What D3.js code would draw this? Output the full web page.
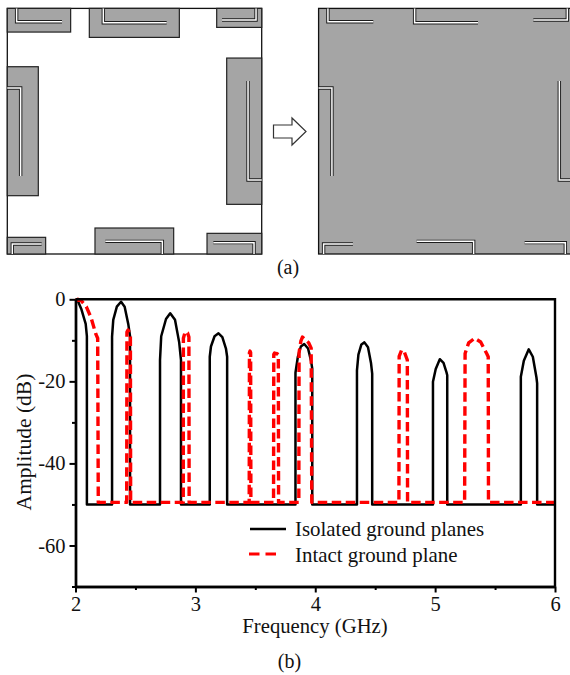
<!DOCTYPE html>
<html><head><meta charset="utf-8">
<script src="https://cdnjs.cloudflare.com/ajax/libs/d3/7.8.5/d3.min.js"></script>
<style>
html,body{margin:0;padding:0;background:#fff;overflow:hidden}
svg{display:block}
text{font-family:"Liberation Serif",serif;fill:#111}
</style></head><body>
<svg id="c" width="570" height="675"></svg>
<script>
// Spectrum series, frequency in GHz and amplitude in dB
const isolatedFreq = [2.00,2.02,2.05,2.085,2.095,2.095, 2.305,2.305,2.315,2.345,2.38,2.41,2.44,2.455,2.455,
  2.705,2.705,2.715,2.755,2.79,2.83,2.865,2.88,2.88, 3.12,3.12,3.13,3.16,3.193,3.225,3.255,3.265,3.265,
  3.835,3.835,3.855,3.88,3.908,3.94,3.965,3.975,3.975, 4.348,4.348,4.36,4.385,4.41,4.44,4.465,4.475,4.475,
  4.982,4.982,5.005,5.039,5.07,5.095,5.101,5.101, 5.715,5.715,5.74,5.781,5.815,5.845,5.851,5.851];
const isolatedAmp = [0,-0.4,-2.5,-6,-9,-50, -50,-9.1,-5,-1.8,-0.6,-1.8,-6,-9,-50,
  -50,-14.8,-9,-4.8,-3.4,-5,-10.5,-14.8,-50, -50,-14,-11.5,-9,-8.3,-9.2,-12,-14,-50,
  -50,-17.9,-14,-11.5,-10.9,-12,-15,-16.9,-50, -50,-17.3,-13.5,-11,-10.5,-11.7,-15.5,-18.1,-50,
  -50,-20.1,-17,-14.6,-15.5,-17.8,-18.5,-50, -50,-18.9,-15,-12.2,-14,-19,-20.5,-50];
const intactFreq = [2.00,2.02,2.05,2.09,2.13,2.17,2.185,2.19, 2.427,2.429,2.438,2.458,2.46,
  2.899,2.90,2.915,2.935,2.946,2.948, 3.449,3.451,3.456,3.461,3.463, 3.652,3.654,3.66,3.674,3.68,3.692,3.694,
  3.863,3.865,3.88,3.893,3.915,3.945,3.966,3.971, 4.698,4.70,4.72,4.74,4.768,4.77,
  5.246,5.25,5.28,5.33,5.38,5.43,5.443,5.445];
const intactAmp = [-0.3,0,-0.4,-1.8,-4.5,-8.5,-9.5,-49.5, -49.5,-8,-7.5,-8.4,-49.5,
  -49.5,-9.5,-7.9,-8.2,-9.2,-49.5, -49.5,-13,-12.6,-13,-49.5, -49.5,-13.4,-13.1,-13.3,-13.2,-13.5,-49.5,
  -49.5,-13,-10.2,-9.2,-9.8,-10.6,-11.9,-49.5, -49.5,-13.9,-12.4,-12.6,-14.8,-49.5,
  -49.5,-13.2,-10.6,-9.5,-10.4,-13.2,-14,-49.5];
const lastFreq = [6, 6];
const xTicks = [2,3,4,5,6];
const yTicks = [0,-20,-40,-60];
const xMinor = [2.5,3.5,4.5,5.5];
const yMinor = [-10,-30,-50,-70];
const legendNames = ["Isolated ground planes","Intact ground plane"];
// Board layout, drawing units
const patchBoxes = [[22,25,212,96],[268,25,538,112],[650,25,785,82],[22,200,115,587],
  [680,174,785,613],[22,712,137,762],[285,684,521,762],[621,700,785,762]];
const slotPaths = [[[50,25],[50,65],[186,65]],[[310,25],[310,68],[500,68]],[[768,25],[768,60],[666,60]],
  [[22,264],[62,264],[62,528]],[[785,540],[744,540],[744,243]],[[37,762],[37,732],[125,732]],
  [[487,762],[487,724],[316,724]],[[762,762],[762,728],[640,728]]];

const svg = d3.select("#c");
const grey = "#a5a5a5";

const bx1 = d3.scaleLinear().domain([22,785]).range([7.3,261.7]);
const bx2 = d3.scaleLinear().domain([22,785]).range([318.6,573]);
const by = d3.scaleLinear().domain([25,762]).range([8.4,254]);

function slots(g, bx){
  const line = d3.line().x(d=>bx(d[0])).y(d=>by(d[1]));
  g.selectAll("path.o").data(slotPaths).join("path").attr("class","o").attr("d",line)
    .attr("fill","none").attr("stroke","#1c1c1c").attr("stroke-width",3.4);
  g.selectAll("path.i").data(slotPaths).join("path").attr("class","i").attr("d",line)
    .attr("fill","none").attr("stroke","#fff").attr("stroke-width",1.5);
}
// left board
const g1 = svg.append("g");
g1.append("rect").attr("x",bx1(22)).attr("y",by(25)).attr("width",bx1(785)-bx1(22)).attr("height",by(762)-by(25))
  .attr("fill","#fff").attr("stroke","#111").attr("stroke-width",1.3);
g1.selectAll("rect.p").data(patchBoxes).join("rect").attr("class","p")
  .attr("x",d=>bx1(d[0])).attr("y",d=>by(d[1])).attr("width",d=>bx1(d[2])-bx1(d[0])).attr("height",d=>by(d[3])-by(d[1]))
  .attr("fill",grey).attr("stroke","#222").attr("stroke-width",1.2);
slots(g1.append("g"),bx1);
// right board
const g2 = svg.append("g");
g2.append("rect").attr("x",bx2(22)).attr("y",by(25)).attr("width",bx2(785)-bx2(22)).attr("height",by(762)-by(25))
  .attr("fill",grey).attr("stroke","#111").attr("stroke-width",1.3);
slots(g2.append("g"),bx2);
// arrow
svg.append("path").attr("d","M273.5,125H292V118L306,131.5L292,145V138H273.5Z")
  .attr("fill","#fff").attr("stroke","#333").attr("stroke-width",1.2);

svg.append("text").attr("x",288).attr("y",273.5).attr("text-anchor","middle").attr("font-size",20).text("(a)");
svg.append("text").attr("x",289.5).attr("y",668).attr("text-anchor","middle").attr("font-size",20).text("(b)");

// chart
const x = d3.scaleLinear().domain([2,6]).range([75.5,555]);
const y = d3.scaleLinear().domain([0,-70]).range([299.3,586.5]);

const line = d3.line().x(d=>x(d[0])).y(d=>y(d[1]));
const isoPts = isolatedFreq.map((f,i)=>[f,isolatedAmp[i]]).concat([[lastFreq[0],-50]]);
const intPts = intactFreq.map((f,i)=>[f,intactAmp[i]]).concat([[lastFreq[1],-49.5]]);

svg.append("path").attr("d",line(isoPts)).attr("fill","none").attr("stroke","#000").attr("stroke-width",2.5).attr("stroke-linejoin","round");
svg.append("path").attr("d",line(intPts)).attr("fill","none").attr("stroke","#f00").attr("stroke-width",3.4)
  .attr("stroke-dasharray","9.5,4.5").attr("stroke-linejoin","round");

// frame
svg.append("path").attr("d",`M${x(2)},${y(0)}H${x(6)}V${y(-70)}`).attr("fill","none").attr("stroke","#000").attr("stroke-width",2.4);

const axB = svg.append("g").attr("transform",`translate(0,${y(-70)})`)
  .call(d3.axisBottom(x).tickValues(xTicks).tickFormat(d3.format("d")).tickSize(6).tickPadding(4).tickSizeOuter(0));
const axBm = svg.append("g").attr("transform",`translate(0,${y(-70)})`)
  .call(d3.axisBottom(x).tickValues(xMinor).tickFormat("").tickSize(3.5).tickSizeOuter(0));
const axL = svg.append("g").attr("transform",`translate(${x(2)},0)`)
  .call(d3.axisLeft(y).tickValues(yTicks).tickFormat(d=>d===0?"0":String(d)).tickSize(6).tickPadding(4).tickSizeOuter(0));
const axLm = svg.append("g").attr("transform",`translate(${x(2)},0)`)
  .call(d3.axisLeft(y).tickValues(yMinor).tickFormat("").tickSize(3.5).tickSizeOuter(0));
[axB,axBm,axL,axLm].forEach(a=>{
  a.selectAll("path").attr("stroke","#000").attr("stroke-width",2.4);
  a.selectAll("line").attr("stroke","#000").attr("stroke-width",2);
  a.selectAll("text").attr("font-size",20.5).attr("font-family","Liberation Serif").attr("fill","#111");
});

svg.append("text").attr("x",315).attr("y",632.5).attr("text-anchor","middle").attr("font-size",20.7).text("Frequency (GHz)");
svg.append("text").attr("transform","translate(31,442) rotate(-90)").attr("text-anchor","middle").attr("font-size",21.5).text("Amplitude (dB)");

// legend
const legendY = [529,554];
const legendBase = [536,562];
svg.append("line").attr("x1",250).attr("x2",286).attr("y1",legendY[0]).attr("y2",legendY[0]).attr("stroke","#000").attr("stroke-width",2.5);
svg.append("line").attr("x1",249).attr("x2",276).attr("y1",legendY[1]).attr("y2",legendY[1]).attr("stroke","#f00").attr("stroke-width",3.2).attr("stroke-dasharray","10.5,6");
svg.selectAll("text.l").data(legendNames).join("text").attr("class","l")
  .attr("x",295).attr("y",(d,i)=>legendBase[i]).attr("font-size",20.9).text(d=>d);
</script>
</body></html>
